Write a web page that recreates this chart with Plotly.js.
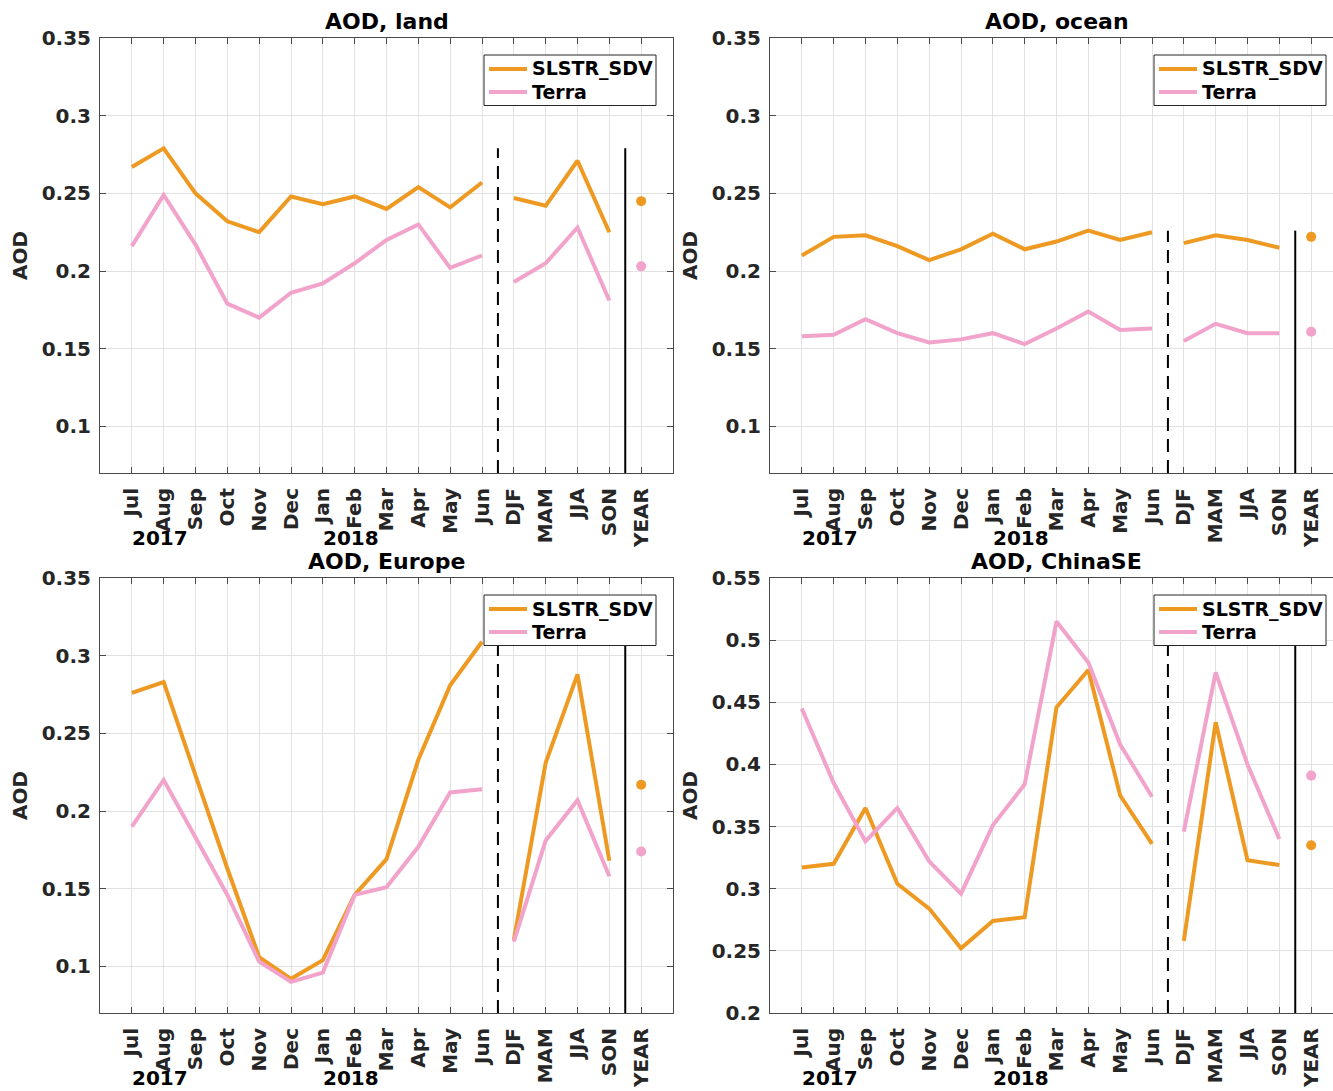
<!DOCTYPE html>
<html>
<head>
<meta charset="utf-8">
<script src="https://cdn.plot.ly/plotly-3.0.1.min.js"></script>
<style>html,body{margin:0;padding:0;background:#fff;}#chart{width:1333px;height:1091px;}</style>
</head>
<body>
<div id="chart"></div>
<script>
// ---- Data ----
const months = ['Jul','Aug','Sep','Oct','Nov','Dec','Jan','Feb','Mar','Apr','May','Jun'];
const seasons = ['DJF','MAM','JJA','SON'];
const yearLabel = ['YEAR'];
const yearsText = ['2017','2018'];
const seriesNames = ['SLSTR_SDV','Terra'];
const panelTitles = ['AOD, land','AOD, ocean','AOD, Europe','AOD, ChinaSE'];

const landSlstrMonth   = [0.267,0.279,0.250,0.232,0.225,0.248,0.243,0.248,0.240,0.254,0.241,0.257];
const landSlstrSeason  = [0.247,0.242,0.271,0.225];
const landSlstrYear    = [0.245];
const landTerraMonth   = [0.216,0.249,0.217,0.179,0.170,0.186,0.192,0.205,0.220,0.230,0.202,0.210];
const landTerraSeason  = [0.193,0.205,0.228,0.181];
const landTerraYear    = [0.203];

const oceanSlstrMonth  = [0.210,0.222,0.223,0.216,0.207,0.214,0.224,0.214,0.219,0.226,0.220,0.225];
const oceanSlstrSeason = [0.218,0.223,0.220,0.215];
const oceanSlstrYear   = [0.222];
const oceanTerraMonth  = [0.158,0.159,0.169,0.160,0.154,0.156,0.160,0.153,0.163,0.174,0.162,0.163];
const oceanTerraSeason = [0.155,0.166,0.160,0.160];
const oceanTerraYear   = [0.161];

const europeSlstrMonth  = [0.276,0.283,0.223,0.163,0.106,0.092,0.104,0.146,0.169,0.233,0.281,0.309];
const europeSlstrSeason = [0.117,0.231,0.288,0.168];
const europeSlstrYear   = [0.217];
const europeTerraMonth  = [0.190,0.220,0.183,0.146,0.103,0.090,0.096,0.146,0.151,0.177,0.212,0.214];
const europeTerraSeason = [0.116,0.181,0.207,0.158];
const europeTerraYear   = [0.174];

const chinaSlstrMonth  = [0.317,0.320,0.365,0.304,0.284,0.252,0.274,0.277,0.446,0.476,0.375,0.336];
const chinaSlstrSeason = [0.258,0.434,0.323,0.319];
const chinaSlstrYear   = [0.335];
const chinaTerraMonth  = [0.445,0.385,0.338,0.365,0.322,0.296,0.351,0.384,0.515,0.482,0.416,0.374];
const chinaTerraSeason = [0.346,0.474,0.400,0.340];
const chinaTerraYear   = [0.391];

// ---- Styling ----
const FONT = 'DejaVu Sans';
const ORANGE = '#EE9A22';
const PINK = '#F2A3CB';
const SERIES_COLORS = [ORANGE, PINK];
const TXT = '#262626';
const GRID = '#e2e2e2';
const AXC = '#4a4a4a';
const LW = 4;

const allLabels = months.concat(seasons, yearLabel);
const tickPos = allLabels.map((_, i) => i + 1);
const monthPos = tickPos.slice(0, months.length);
const seasonPos = tickPos.slice(months.length, months.length + seasons.length);
const yearPos = tickPos.slice(months.length + seasons.length);

const panels = [
  {sm: landSlstrMonth, ss: landSlstrSeason, sy: landSlstrYear, tm: landTerraMonth, ts: landTerraSeason, ty: landTerraYear, yr: [0.07, 0.35]},
  {sm: oceanSlstrMonth, ss: oceanSlstrSeason, sy: oceanSlstrYear, tm: oceanTerraMonth, ts: oceanTerraSeason, ty: oceanTerraYear, yr: [0.07, 0.35]},
  {sm: europeSlstrMonth, ss: europeSlstrSeason, sy: europeSlstrYear, tm: europeTerraMonth, ts: europeTerraSeason, ty: europeTerraYear, yr: [0.07, 0.35]},
  {sm: chinaSlstrMonth, ss: chinaSlstrSeason, sy: chinaSlstrYear, tm: chinaTerraMonth, ts: chinaTerraSeason, ty: chinaTerraYear, yr: [0.2, 0.55]}
];

const W = 1333, H = 1091;
const unit = 573 / 18;
const boxes = [
  {l: 100, r: 673, t: 38, b: 473},
  {l: 770, r: 1333, t: 38, b: 473},
  {l: 100, r: 673, t: 578, b: 1013},
  {l: 770, r: 1333, t: 578, b: 1013}
];
const px = v => v / W;
const py = v => 1 - v / H;

const traces = [];
const layout = {
  width: W, height: H,
  margin: {l: 0, r: 0, t: 0, b: 0},
  paper_bgcolor: '#fff', plot_bgcolor: '#fff',
  font: {family: FONT, color: TXT, size: 20, weight: 'bold'},
  showlegend: false,
  annotations: [],
  shapes: []
};

panels.forEach((p, i) => {
  const k = i === 0 ? '' : String(i + 1);
  const xa = 'x' + k, ya = 'y' + k;
  const bx = boxes[i];
  const cut = bx.r >= W;
  const xmax = cut ? (bx.r - bx.l) / unit : 18;

  const mk = (x, y, color, name, mode) => ({
    type: 'scatter', x: x, y: y, xaxis: xa, yaxis: ya,
    mode: mode, name: name,
    line: {color: color, width: LW}, marker: {color: color, size: 10},
    hoverinfo: 'skip'
  });
  traces.push(mk(monthPos, p.sm, ORANGE, seriesNames[0], 'lines'));
  traces.push(mk(monthPos, p.tm, PINK, seriesNames[1], 'lines'));
  traces.push(mk(seasonPos, p.ss, ORANGE, seriesNames[0], 'lines'));
  traces.push(mk(seasonPos, p.ts, PINK, seriesNames[1], 'lines'));
  traces.push(mk(yearPos, p.sy, ORANGE, seriesNames[0], 'markers'));
  traces.push(mk(yearPos, p.ty, PINK, seriesNames[1], 'markers'));

  layout['xaxis' + k] = {
    domain: [px(bx.l), Math.min(1, px(bx.r))],
    anchor: ya, range: [0, xmax],
    tickmode: 'array', tickvals: tickPos, ticktext: allLabels,
    tickangle: -90, ticks: 'inside', ticklen: 6, tickcolor: AXC,
    showline: true, linecolor: AXC, linewidth: 1, mirror: 'ticks',
    showgrid: true, gridcolor: GRID, gridwidth: 1, zeroline: false,
    tickfont: {family: FONT, size: 20, color: TXT, weight: 'bold'},
    ticklabelstandoff: 6, fixedrange: true
  };
  layout['yaxis' + k] = {
    domain: [py(bx.b), py(bx.t)],
    anchor: xa, range: p.yr,
    tick0: 0.1, dtick: 0.05, tickformat: '.2~f',
    ticks: 'inside', ticklen: 6, tickcolor: AXC,
    showline: true, linecolor: AXC, linewidth: 1, mirror: cut ? false : 'ticks',
    showgrid: true, gridcolor: GRID, gridwidth: 1, zeroline: false,
    tickfont: {family: FONT, size: 20, color: TXT, weight: 'bold'},
    ticklabelstandoff: 4,
    title: {text: 'AOD', font: {family: FONT, size: 20, color: TXT, weight: 'bold'}, standoff: 8},
    fixedrange: true
  };

  // Panel title
  layout.annotations.push({
    text: panelTitles[i], xref: 'paper', yref: ya + ' domain',
    x: px(bx.l + 286.5), y: 1, xanchor: 'center', yanchor: 'bottom', yshift: 2,
    showarrow: false, font: {family: FONT, size: 22, color: '#000', weight: 'bold'}
  });
  // Year labels under Aug and Feb
  [[2, yearsText[0]], [8, yearsText[1]]].forEach(([pos, txt]) => {
    layout.annotations.push({
      text: txt, xref: xa, yref: ya + ' domain', x: pos - 0.1, y: -0.118,
      xanchor: 'center', yanchor: 'top', showarrow: false,
      font: {family: FONT, size: 20, color: '#000', weight: 'bold'}
    });
  });

  // Separator lines: dashed between months and seasons, solid before YEAR
  const top = Math.max(...p.sm, ...p.tm, ...p.ss, ...p.ts);
  layout.shapes.push({type: 'line', xref: xa, yref: ya, x0: 12.5, x1: 12.5, y0: p.yr[0], y1: top,
    line: {color: '#000', width: 2, dash: '13px,8px'}, layer: 'above'});
  layout.shapes.push({type: 'line', xref: xa, yref: ya, x0: 16.5, x1: 16.5, y0: p.yr[0], y1: top,
    line: {color: '#000', width: 2}, layer: 'above'});

  // Legend box (MATLAB style, upper right of each panel)
  layout.shapes.push({type: 'rect', xref: 'paper', yref: 'paper',
    x0: px(bx.l + 384), x1: px(bx.l + 556), y0: py(bx.t + 17), y1: py(bx.t + 67.5),
    fillcolor: '#fff', line: {color: '#262626', width: 1}, layer: 'above'});
  seriesNames.forEach((nm, j) => {
    const rowY = bx.t + 31 + j * 23;
    layout.shapes.push({type: 'line', xref: 'paper', yref: 'paper',
      x0: px(bx.l + 389), x1: px(bx.l + 427), y0: py(rowY), y1: py(rowY),
      line: {color: SERIES_COLORS[j], width: LW}, layer: 'above'});
    layout.annotations.push({
      text: nm, xref: 'paper', yref: 'paper', x: px(bx.l + 430), y: py(rowY),
      xanchor: 'left', yanchor: 'middle', showarrow: false,
      font: {family: FONT, size: 19, color: '#000', weight: 'bold'}
    });
  });
});

Plotly.newPlot('chart', traces, layout, {staticPlot: true, displayModeBar: false});
</script>
</body>
</html>
